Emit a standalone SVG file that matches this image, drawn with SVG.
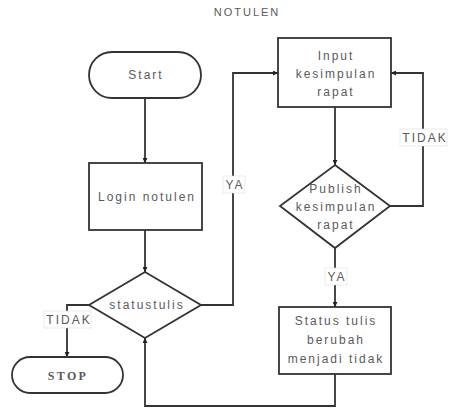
<svg xmlns="http://www.w3.org/2000/svg" width="455" height="410" viewBox="0 0 455 410">
<style>
.shape{fill:#fff;stroke:#333;stroke-width:1.8}
.t{font-family:"Liberation Sans",Arial,sans-serif;font-size:12px;fill:#5a5a5a;letter-spacing:2px;text-anchor:middle}
.serif{font-family:"Liberation Serif","Times New Roman",serif;font-weight:bold;letter-spacing:2.4px}
.conn{fill:none;stroke:#333;stroke-width:1.8}
.lbg{fill:#fff;stroke:#ddd;stroke-width:0.6}
</style>
<defs>
<marker id="arr" viewBox="0 0 10 10" refX="10" refY="5" markerWidth="5" markerHeight="5" orient="auto" markerUnits="userSpaceOnUse">
<path d="M0,0 L10,5 L0,10 z" fill="#222"/>
</marker>
</defs>
<rect width="455" height="410" fill="#fff"/>
<text class="t" x="247" y="16" style="font-size:11px">NOTULEN</text>
<g id="connectors">
<path class="conn" d="M145,98 V163" marker-end="url(#arr)"/>
<path class="conn" d="M145,230 V272" marker-end="url(#arr)"/>
<path class="conn" d="M89,305 H67 V357" marker-end="url(#arr)"/>
<path class="conn" d="M201,305 H233 V73 H278" marker-end="url(#arr)"/>
<path class="conn" d="M335,107 V165" marker-end="url(#arr)"/>
<path class="conn" d="M390,206 H423 V73 H391" marker-end="url(#arr)"/>
<path class="conn" d="M335,248 V307" marker-end="url(#arr)"/>
<path class="conn" d="M335,374 V406 H145 V338" marker-end="url(#arr)"/>
<g id="labels">
<rect class="lbg" x="223" y="176" width="22" height="17"/>
<text class="t" x="235" y="189">YA</text>
<rect class="lbg" x="400" y="129" width="47" height="17"/>
<text class="t" x="425" y="142">TIDAK</text>
<rect class="lbg" x="325" y="268" width="22" height="17"/>
<text class="t" x="337" y="281">YA</text>
<rect class="lbg" x="44" y="311" width="47" height="17"/>
<text class="t" x="69" y="324">TIDAK</text>
</g>
</g>
<g id="start">
<rect class="shape" x="89" y="52" width="112" height="46" rx="23"/>
<text class="t" x="146" y="79">Start</text>
</g>
<g id="login">
<rect class="shape" x="89" y="163" width="113" height="67"/>
<text class="t" x="147" y="201">Login notulen</text>
</g>
<g id="statustulis">
<path class="shape" d="M145,272 L201,305 L145,338 L89,305 z"/>
<text class="t" x="147" y="309">statustulis</text>
</g>
<g id="stop">
<rect class="shape" x="12" y="357" width="111" height="36" rx="18"/>
<text class="t serif" x="68" y="380">STOP</text>
</g>
<g id="input">
<rect class="shape" x="278" y="38" width="113" height="69"/>
<text class="t" x="336" y="60">Input</text>
<text class="t" x="336" y="78">kesimpulan</text>
<text class="t" x="336" y="96">rapat</text>
</g>
<g id="publish">
<path class="shape" d="M335,165 L390,206 L335,248 L280,206 z"/>
<text class="t" x="336" y="193">Publish</text>
<text class="t" x="336" y="211">kesimpulan</text>
<text class="t" x="336" y="229">rapat</text>
</g>
<g id="status">
<rect class="shape" x="279" y="307" width="112" height="67"/>
<text class="t" x="336" y="325">Status tulis</text>
<text class="t" x="336" y="344">berubah</text>
<text class="t" x="336" y="363">menjadi tidak</text>
</g>
</svg>
